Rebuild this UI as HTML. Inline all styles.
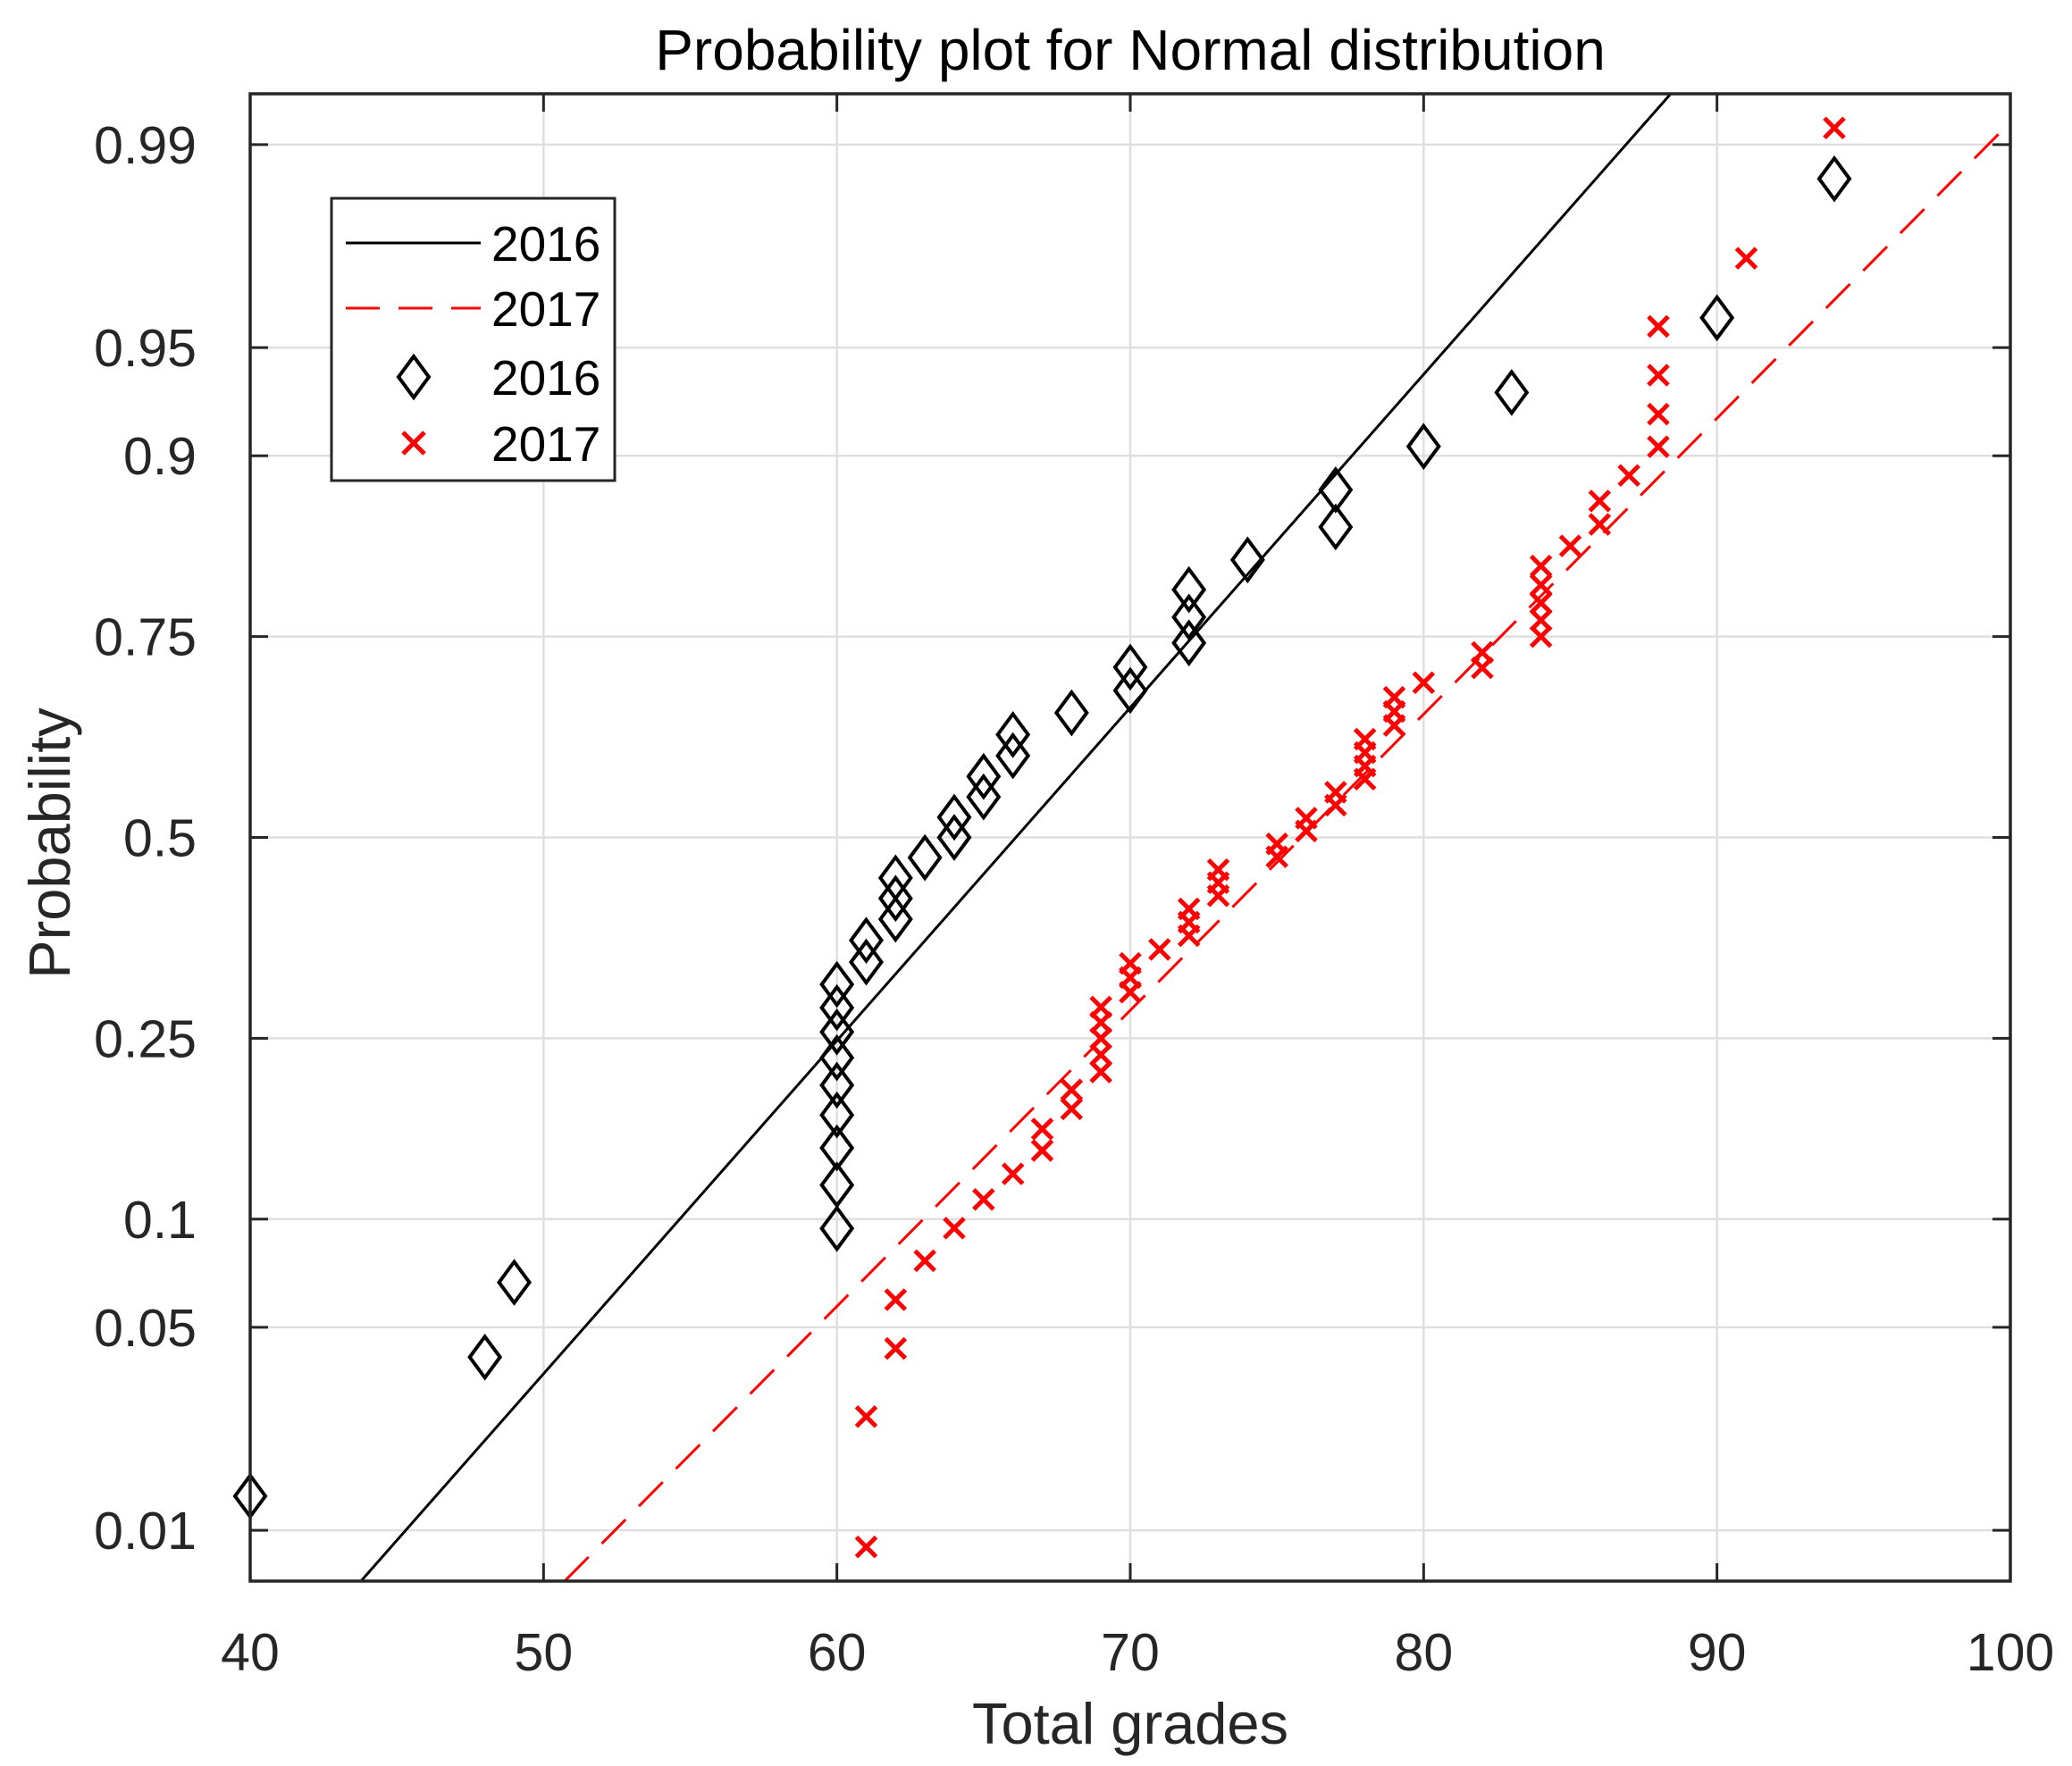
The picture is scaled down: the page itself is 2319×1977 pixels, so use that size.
<!DOCTYPE html>
<html><head><meta charset="utf-8"><style>
html,body{margin:0;padding:0;background:#fff;}
svg{display:block;font-family:"Liberation Sans",Arial,sans-serif;}
</style></head><body>
<svg id="chart" width="2319" height="1977" viewBox="0 0 2319 1977" xmlns="http://www.w3.org/2000/svg">
<rect width="2319" height="1977" fill="#fff"/>
<g id="grid"></g>
<g id="lines"></g>
<g id="marks"></g>
<g id="axes"></g>
<text x="1265" y="78" font-size="64" text-anchor="middle" fill="#000">Probability plot for Normal distribution</text>
<text x="1265" y="1952" font-size="65" text-anchor="middle" fill="#262626">Total grades</text>
<text transform="translate(78,944) rotate(-90)" font-size="65" text-anchor="middle" fill="#262626">Probability</text>
<g>
<rect x="371" y="222" width="317" height="316" fill="#fff" stroke="#262626" stroke-width="3"/>
<line x1="387" y1="272" x2="538" y2="272" stroke="#000" stroke-width="3"/>
<text x="550" y="292" font-size="55" fill="#000">2016</text>
<line x1="387" y1="345" x2="538" y2="345" stroke="#f00" stroke-width="3" stroke-dasharray="38,21"/>
<text x="550" y="365" font-size="55" fill="#000">2017</text>
<path d="M463 399 L480 422 L463 445 L446 422 Z" fill="none" stroke="#000" stroke-width="4"/>
<text x="550" y="442" font-size="55" fill="#000">2016</text>
<path d="M451 484 L475 508 M475 484 L451 508" stroke="#f00" stroke-width="5"/>
<text x="550" y="516" font-size="55" fill="#000">2017</text>
</g>
</svg>
<script>
const xTicks = [40, 50, 60, 70, 80, 90, 100];
const yTicks = [0.01, 0.05, 0.1, 0.25, 0.5, 0.75, 0.9, 0.95, 0.99];
const yTickLabels = ["0.01", "0.05", "0.1", "0.25", "0.5", "0.75", "0.9", "0.95", "0.99"];
const grades2016 = [40,48,49,60,60,60,60,60,60,60,60,60,61,61,62,62,62,63,64,64,65,65,66,66,68,70,70,72,72,72,74,77,77,80,83,90,94];
const prob2016 = [.0135,.0405,.0676,.0946,.1216,.1486,.1757,.2027,.2297,.2568,.2838,.3108,.3378,.3649,.3919,.4189,.4459,.4730,.5000,.5270,.5541,.5811,.6081,.6351,.6622,.6892,.7162,.7432,.7703,.7973,.8243,.8514,.8784,.9054,.9324,.9595,.9865];
const grades2017 = [61,61,62,62,63,64,65,66,67,67,68,68,69,69,69,69,69,70,70,70,71,72,72,72,73,73,73,75,75,76,76,77,77,78,78,78,78,79,79,79,80,82,82,84,84,84,84,84,85,86,86,87,88,88,88,88,91,94];
const prob2017 = [.0086,.0259,.0431,.0603,.0776,.0948,.1121,.1293,.1466,.1638,.1810,.1983,.2155,.2328,.2500,.2672,.2845,.3017,.3190,.3362,.3534,.3707,.3879,.4052,.4224,.4397,.4569,.4741,.4914,.5086,.5259,.5431,.5603,.5776,.5948,.6121,.6293,.6466,.6638,.6810,.6983,.7155,.7328,.7500,.7672,.7845,.8017,.8190,.8362,.8534,.8707,.8879,.9052,.9224,.9397,.9569,.9741,.9914];
const fitMean = [66.1, 75.84];
const fitSigma = [8.94, 10.06];

const L=280,R=2250,T=105,B=1770,X0=40,X1=100,ZMID=937.5,ZS=333.4;
const NS="http://www.w3.org/2000/svg";
function invNorm(p){
  const a=[-3.969683028665376e+01,2.209460984245205e+02,-2.759285104469687e+02,1.383577518672690e+02,-3.066479806614716e+01,2.506628277459239e+00];
  const b=[-5.447609879822406e+01,1.615858368580409e+02,-1.556989798598866e+02,6.680131188771972e+01,-1.328068155288572e+01];
  const c=[-7.784894002430293e-03,-3.223964580411365e-01,-2.400758277161838e+00,-2.549732539343734e+00,4.374664141464968e+00,2.938163982698783e+00];
  const d=[7.784695709041462e-03,3.224671290700398e-01,2.445134137142996e+00,3.754408661907416e+00];
  const pl=0.02425;let q,r;
  if(p<pl){q=Math.sqrt(-2*Math.log(p));return (((((c[0]*q+c[1])*q+c[2])*q+c[3])*q+c[4])*q+c[5])/((((d[0]*q+d[1])*q+d[2])*q+d[3])*q+1);}
  if(p>1-pl){q=Math.sqrt(-2*Math.log(1-p));return -(((((c[0]*q+c[1])*q+c[2])*q+c[3])*q+c[4])*q+c[5])/((((d[0]*q+d[1])*q+d[2])*q+d[3])*q+1);}
  q=p-0.5;r=q*q;return (((((a[0]*r+a[1])*r+a[2])*r+a[3])*r+a[4])*r+a[5])*q/(((((b[0]*r+b[1])*r+b[2])*r+b[3])*r+b[4])*r+1);
}
function xs(v){return L+(v-X0)/(X1-X0)*(R-L);}
function zy(z){return ZMID-z*ZS;}
function ys(p){return zy(invNorm(p));}
function mk(tag,attrs,parent){const e=document.createElementNS(NS,tag);for(const k in attrs)e.setAttribute(k,attrs[k]);parent.appendChild(e);return e;}

const grid=document.getElementById('grid'),axes=document.getElementById('axes'),lines=document.getElementById('lines'),marks=document.getElementById('marks');
xTicks.forEach(v=>{
  const x=xs(v);
  const g=mk('line',{x1:x,y1:T,x2:x,y2:B,stroke:'#dfdfdf','stroke-width':2.5},grid);
  
  
  const t1=mk('line',{x1:x,y1:B,x2:x,y2:B-20,stroke:'#262626','stroke-width':3},axes);
  
  
  const t2=mk('line',{x1:x,y1:T,x2:x,y2:T+20,stroke:'#262626','stroke-width':3},axes);
  
  
  const lb=mk('text',{x:x,y:1870,'font-size':59,'text-anchor':'middle',fill:'#262626'},axes);
  lb.textContent=String(v);
  
  
});
yTicks.forEach((p,i)=>{
  const y=ys(p);
  const g=mk('line',{x1:L,y1:y,x2:R,y2:y,stroke:'#dfdfdf','stroke-width':2.5},grid);
  
  
  const t1=mk('line',{x1:L,y1:y,x2:L+20,y2:y,stroke:'#262626','stroke-width':3},axes);
  
  
  const t2=mk('line',{x1:R,y1:y,x2:R-20,y2:y,stroke:'#262626','stroke-width':3},axes);
  
  
  const lb=mk('text',{x:220,y:y+21,'font-size':59,'text-anchor':'end',fill:'#262626'},axes);
  lb.textContent=yTickLabels[i];
  
  
});
const frame=mk('rect',{x:L,y:T,width:R-L,height:B-T,fill:'none',stroke:'#262626','stroke-width':3.5},axes);



function fitLine(m,s,color,dash,name){
  const zb=(ZMID-B)/ZS, zt=(ZMID-T)/ZS;
  let xa=m+s*zb,za=zb,xb=m+s*zt,zb2=zt;
  if(xb>X1){xb=X1;zb2=(X1-m)/s;}
  if(xa<X0){xa=X0;za=(X0-m)/s;}
  const ln=mk('line',{x1:xs(xa),y1:zy(za),x2:xs(xb),y2:zy(zb2),stroke:color,'stroke-width':3},lines);
  if(dash)ln.setAttribute('stroke-dasharray',dash);
  
  
}
fitLine(fitMean[0],fitSigma[0],'#000',null,'fit-line-2016');
fitLine(fitMean[1],fitSigma[1],'#f00','38,21','fit-line-2017');

grades2016.forEach((v,i)=>{
  const x=xs(v),y=ys(prob2016[i]);
  const d=mk('path',{d:`M${x} ${y-23} L${x+17} ${y} L${x} ${y+23} L${x-17} ${y} Z`,fill:'none',stroke:'#000','stroke-width':4},marks);
  
  
});
grades2017.forEach((v,i)=>{
  const x=xs(v),y=ys(prob2017[i]);
  const d=mk('path',{d:`M${x-11} ${y-11} L${x+11} ${y+11} M${x+11} ${y-11} L${x-11} ${y+11}`,stroke:'#f00','stroke-width':5},marks);
  
  
});
</script>
</body></html>
